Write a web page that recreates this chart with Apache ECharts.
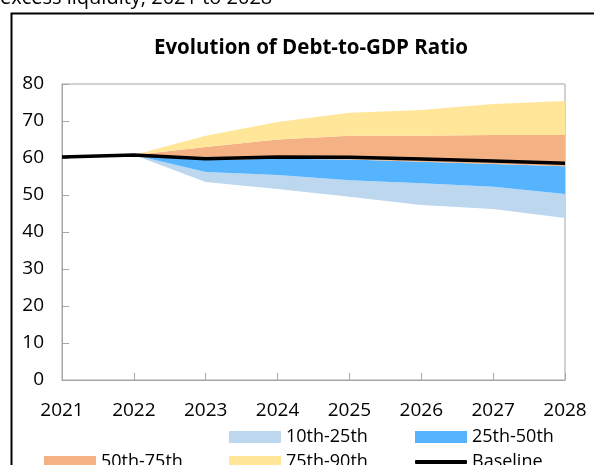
<!DOCTYPE html>
<html>
<head>
<meta charset="utf-8">
<script src="https://cdn.jsdelivr.net/npm/echarts@6/dist/echarts.min.js"></script>
<style>
html,body{margin:0;padding:0;background:#fff;}
#chart{width:594px;height:465px;}
</style>
</head>
<body>
<div id="chart"></div>
<script>
var years = ['2021','2022','2023','2024','2025','2026','2027','2028'];
var baseline = [60.3, 60.8, 59.8, 60.3, 60.2, 59.7, 59.2, 58.6];
var p10 = ['-', 60.8, 53.5, 51.6, 49.5, 47.3, 46.2, 43.8];
var p25 = ['-', 60.8, 56.2, 55.4, 54.0, 53.2, 52.2, 50.3];
var p50 = ['-', 60.8, 59.5, 59.8, 59.6, 59.0, 58.4, 57.8];
var p75 = ['-', 60.8, 63.0, 65.0, 66.0, 66.0, 66.2, 66.2];
var p90 = ['-', 60.8, 66.0, 69.7, 72.2, 73.0, 74.6, 75.4];
var yTicks = [0, 10, 20, 30, 40, 50, 60, 70, 80];

function diff(a, b) {
  return a.map(function (v, i) { return (v === '-' || b[i] === '-') ? '-' : +(v - b[i]).toFixed(2); });
}

var FONT = '"Open Sans", "Noto Sans", sans-serif';
var colors = {
  b1: '#BDD7EE',
  b2: '#56B4FF',
  b3: '#F4B183',
  b4: '#FFE699'
};

function band(name, data, color) {
  return {
    name: name, type: 'line', stack: 'fan', data: data,
    showSymbol: false, symbol: 'none',
    lineStyle: { width: 0, color: color },
    itemStyle: { color: color },
    areaStyle: { color: color, opacity: 1 },
    z: 2
  };
}

function leg(name, left, top, icon, h) {
  return {
    data: [name], left: left, top: top,
    itemWidth: 52, itemHeight: h || 12, icon: icon || 'rect',
    padding: 0,
    textStyle: { fontFamily: FONT, fontSize: 18, color: '#000', padding: [0,0,0,0] },
    itemGap: 0
  };
}

var chart = echarts.init(document.getElementById('chart'));
chart.setOption({
  animation: false,
  backgroundColor: '#fff',
  graphic: [
    { type: 'rect', left: 9, top: 11, shape: { width: 620, height: 500 },
      style: { fill: 'none', stroke: '#000', lineWidth: 2 }, silent: true },
    { type: 'text', left: 0, top: -12,
      style: { text: 'excess liquidity, 2021 to 2028', font: '20px ' + FONT, fill: '#000' } }
  ],
  title: {
    text: 'Evolution of Debt-to-GDP Ratio', left: 306, top: 33, textAlign: 'center',
    textStyle: { fontFamily: FONT, fontSize: 20.5, fontWeight: 'bold', color: '#000' }
  },
  legend: [
    leg('10th-25th', 229, 428),
    leg('25th-50th', 415, 428),
    leg('50th-75th', 44, 453),
    leg('75th-90th', 229, 453),
    leg({ name: 'Baseline', icon: 'roundRect' }, 415, 453, 'roundRect', 4)
  ],
  grid: { left: 62, right: 29, top: 84, bottom: 85, show: true, borderColor: '#A6A6A6', borderWidth: 1 },
  xAxis: {
    type: 'category', data: years, boundaryGap: false,
    axisLine: { lineStyle: { color: '#A6A6A6', width: 1 } },
    axisTick: { inside: true, length: 7, lineStyle: { color: '#A6A6A6' } },
    axisLabel: { fontFamily: FONT, fontSize: 19, color: '#000', margin: 21 },
    splitLine: { show: false }
  },
  yAxis: {
    type: 'value', min: yTicks[0], max: yTicks[yTicks.length - 1], interval: 10,
    axisLine: { show: true, lineStyle: { color: '#A6A6A6', width: 1 } },
    axisTick: { show: true, inside: true, length: 7, lineStyle: { color: '#A6A6A6' } },
    axisLabel: { fontFamily: FONT, fontSize: 19, color: '#000', margin: 18 },
    splitLine: { show: false }
  },
  series: [
    { name: 'base', type: 'line', stack: 'fan', data: p10, showSymbol: false, symbol: 'none',
      lineStyle: { width: 0 }, silent: true, z: 1 },
    band('10th-25th', diff(p25, p10), colors.b1),
    band('25th-50th', diff(p50, p25), colors.b2),
    band('50th-75th', diff(p75, p50), colors.b3),
    band('75th-90th', diff(p90, p75), colors.b4),
    { name: 'Baseline', type: 'line', data: baseline, showSymbol: false, symbol: 'none',
      lineStyle: { width: 3.5, color: '#000' }, itemStyle: { color: '#000' }, z: 5 }
  ]
});
</script>
</body>
</html>
